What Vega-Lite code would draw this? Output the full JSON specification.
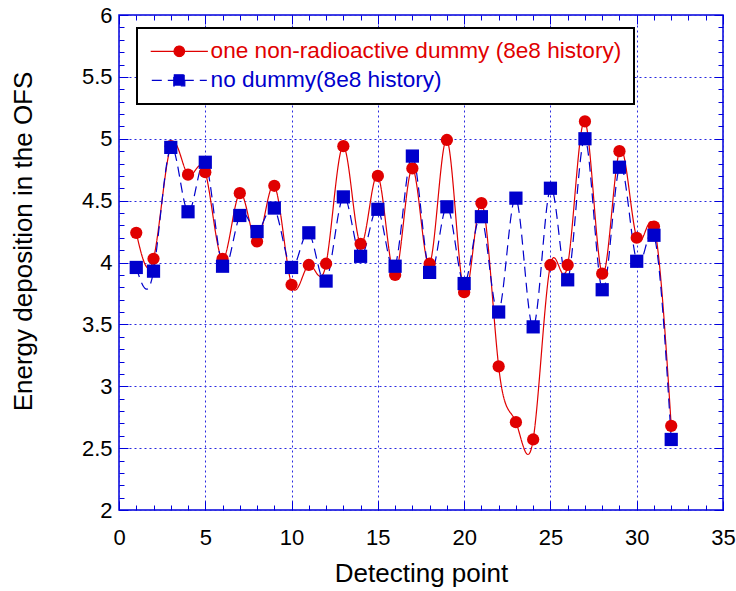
{
  "$schema": "https://vega.github.io/schema/vega-lite/v6.json",
  "autosize": "none",
  "width": 604,
  "height": 495,
  "padding": {"left": 119, "top": 15, "right": 13, "bottom": 81},
  "background": "white",
  "config": {
    "view": {"stroke": "#0000dd", "strokeWidth": 1.5},
    "font": "Liberation Sans",
    "axis": {"labelFont": "Liberation Sans", "titleFont": "Liberation Sans", "labelColor": "black", "titleColor": "black", "titleFontWeight": "normal", "domain": false, "tickColor": "#0000dd", "gridColor": "#2a2ae0", "gridDash": [2, 3], "gridWidth": 1, "labelFlush": false}
  },
  "datasets": {
    "pts": [
      {"point": 1, "series": "one non-radioactive dummy (8e8 history)", "value": 4.24},
      {"point": 2, "series": "one non-radioactive dummy (8e8 history)", "value": 4.03},
      {"point": 3, "series": "one non-radioactive dummy (8e8 history)", "value": 4.94},
      {"point": 4, "series": "one non-radioactive dummy (8e8 history)", "value": 4.71},
      {"point": 5, "series": "one non-radioactive dummy (8e8 history)", "value": 4.73},
      {"point": 6, "series": "one non-radioactive dummy (8e8 history)", "value": 4.03},
      {"point": 7, "series": "one non-radioactive dummy (8e8 history)", "value": 4.56},
      {"point": 8, "series": "one non-radioactive dummy (8e8 history)", "value": 4.17},
      {"point": 9, "series": "one non-radioactive dummy (8e8 history)", "value": 4.62},
      {"point": 10, "series": "one non-radioactive dummy (8e8 history)", "value": 3.82},
      {"point": 11, "series": "one non-radioactive dummy (8e8 history)", "value": 3.98},
      {"point": 12, "series": "one non-radioactive dummy (8e8 history)", "value": 3.99},
      {"point": 13, "series": "one non-radioactive dummy (8e8 history)", "value": 4.94},
      {"point": 14, "series": "one non-radioactive dummy (8e8 history)", "value": 4.15},
      {"point": 15, "series": "one non-radioactive dummy (8e8 history)", "value": 4.70},
      {"point": 16, "series": "one non-radioactive dummy (8e8 history)", "value": 3.90},
      {"point": 17, "series": "one non-radioactive dummy (8e8 history)", "value": 4.76},
      {"point": 18, "series": "one non-radioactive dummy (8e8 history)", "value": 3.99},
      {"point": 19, "series": "one non-radioactive dummy (8e8 history)", "value": 4.99},
      {"point": 20, "series": "one non-radioactive dummy (8e8 history)", "value": 3.76},
      {"point": 21, "series": "one non-radioactive dummy (8e8 history)", "value": 4.48},
      {"point": 22, "series": "one non-radioactive dummy (8e8 history)", "value": 3.16},
      {"point": 23, "series": "one non-radioactive dummy (8e8 history)", "value": 2.71},
      {"point": 24, "series": "one non-radioactive dummy (8e8 history)", "value": 2.57},
      {"point": 25, "series": "one non-radioactive dummy (8e8 history)", "value": 3.98},
      {"point": 26, "series": "one non-radioactive dummy (8e8 history)", "value": 3.98},
      {"point": 27, "series": "one non-radioactive dummy (8e8 history)", "value": 5.14},
      {"point": 28, "series": "one non-radioactive dummy (8e8 history)", "value": 3.91},
      {"point": 29, "series": "one non-radioactive dummy (8e8 history)", "value": 4.90},
      {"point": 30, "series": "one non-radioactive dummy (8e8 history)", "value": 4.20},
      {"point": 31, "series": "one non-radioactive dummy (8e8 history)", "value": 4.29},
      {"point": 32, "series": "one non-radioactive dummy (8e8 history)", "value": 2.68},
      {"point": 1, "series": "no dummy(8e8 history)", "value": 3.96},
      {"point": 2, "series": "no dummy(8e8 history)", "value": 3.93},
      {"point": 3, "series": "no dummy(8e8 history)", "value": 4.93},
      {"point": 4, "series": "no dummy(8e8 history)", "value": 4.41},
      {"point": 5, "series": "no dummy(8e8 history)", "value": 4.81},
      {"point": 6, "series": "no dummy(8e8 history)", "value": 3.97},
      {"point": 7, "series": "no dummy(8e8 history)", "value": 4.38},
      {"point": 8, "series": "no dummy(8e8 history)", "value": 4.25},
      {"point": 9, "series": "no dummy(8e8 history)", "value": 4.44},
      {"point": 10, "series": "no dummy(8e8 history)", "value": 3.96},
      {"point": 11, "series": "no dummy(8e8 history)", "value": 4.24},
      {"point": 12, "series": "no dummy(8e8 history)", "value": 3.85},
      {"point": 13, "series": "no dummy(8e8 history)", "value": 4.53},
      {"point": 14, "series": "no dummy(8e8 history)", "value": 4.05},
      {"point": 15, "series": "no dummy(8e8 history)", "value": 4.43},
      {"point": 16, "series": "no dummy(8e8 history)", "value": 3.97},
      {"point": 17, "series": "no dummy(8e8 history)", "value": 4.86},
      {"point": 18, "series": "no dummy(8e8 history)", "value": 3.92},
      {"point": 19, "series": "no dummy(8e8 history)", "value": 4.45},
      {"point": 20, "series": "no dummy(8e8 history)", "value": 3.83},
      {"point": 21, "series": "no dummy(8e8 history)", "value": 4.37},
      {"point": 22, "series": "no dummy(8e8 history)", "value": 3.60},
      {"point": 23, "series": "no dummy(8e8 history)", "value": 4.52},
      {"point": 24, "series": "no dummy(8e8 history)", "value": 3.48},
      {"point": 25, "series": "no dummy(8e8 history)", "value": 4.60},
      {"point": 26, "series": "no dummy(8e8 history)", "value": 3.86},
      {"point": 27, "series": "no dummy(8e8 history)", "value": 5.00},
      {"point": 28, "series": "no dummy(8e8 history)", "value": 3.78},
      {"point": 29, "series": "no dummy(8e8 history)", "value": 4.77},
      {"point": 30, "series": "no dummy(8e8 history)", "value": 4.01},
      {"point": 31, "series": "no dummy(8e8 history)", "value": 4.22},
      {"point": 32, "series": "no dummy(8e8 history)", "value": 2.57}
    ]
  },
  "data": {"name": "pts"},
  "resolve": {"axis": {"x": "independent", "y": "independent"}},
  "layer": [
    {
      "mark": {"type": "line", "interpolate": "natural", "strokeWidth": 1.2, "clip": true},
      "encoding": {
        "x": {"field": "point", "type": "quantitative", "scale": {"domain": [0, 35], "nice": false, "zero": false},
          "axis": {"orient": "bottom", "values": [0, 5, 10, 15, 20, 25, 30, 35], "grid": true, "tickSize": -9, "labelFontSize": 22, "labelPadding": 26, "title": "Detecting point", "titleFontSize": 26, "titlePadding": 12}},
        "y": {"field": "value", "type": "quantitative", "scale": {"domain": [2, 6], "nice": false, "zero": false},
          "axis": {"orient": "left", "values": [2, 2.5, 3, 3.5, 4, 4.5, 5, 5.5, 6], "format": "~g", "grid": true, "tickSize": -9, "labelFontSize": 22, "labelPadding": 16, "title": "Energy deposition in the OFS", "titleFontSize": 26, "titleX": -96, "titleY": 226, "titleBaseline": "middle", "titleAngle": -90, "titleAlign": "center"}},
        "color": {"field": "series", "type": "nominal",
          "scale": {"domain": ["one non-radioactive dummy (8e8 history)", "no dummy(8e8 history)"], "range": ["#e00000", "#0000cc"]},
          "legend": {"orient": "none", "legendX": 18, "legendY": 13, "title": null, "labelFontSize": 22.6, "labelFont": "Liberation Sans", "labelLimit": 0,
            "strokeColor": "black", "fillColor": "white", "padding": 12, "rowPadding": 6,
            "symbolSize": 121, "symbolOffset": 19, "labelOffset": 20, "symbolStrokeWidth": 1.2,
            "encoding": {
              "legend": {"strokeWidth": {"value": 2}},
              "labels": {"fill": {"value": {"expr": "datum.value === 'no dummy(8e8 history)' ? '#0000cc' : '#e00000'"}}},
              "symbols": {
                "shape": {"value": {"expr": "datum.value === 'no dummy(8e8 history)' ? 'M-5,0H5M-1,-1H1V1H-1Z' : 'M-5.2,0H5.2M0.95,0A0.95,0.95,0,1,1,-0.95,0A0.95,0.95,0,1,1,0.95,0Z'"}},
                "fill": {"value": {"expr": "datum.value === 'no dummy(8e8 history)' ? '#0000cc' : '#e00000'"}},
                "stroke": {"value": {"expr": "datum.value === 'no dummy(8e8 history)' ? '#0000cc' : '#e00000'"}},
                "strokeDash": {"value": {"expr": "datum.value === 'no dummy(8e8 history)' ? [10, 4] : [1, 0]"}},
                "opacity": {"value": 1}
              }
            }}},
        "strokeDash": {"field": "series", "type": "nominal", "scale": {"domain": ["one non-radioactive dummy (8e8 history)", "no dummy(8e8 history)"], "range": [[1, 0], [10, 6]]}, "legend": null}
      }
    },
    {
      "transform": [{"filter": "datum.series === 'one non-radioactive dummy (8e8 history)'"}],
      "mark": {"type": "point", "filled": true, "opacity": 1, "shape": "circle", "size": 150, "color": "#e00000"},
      "encoding": {
        "x": {"field": "point", "type": "quantitative", "axis": {"orient": "bottom", "values": [0,1,2,3,4,5,6,7,8,9,10,11,12,13,14,15,16,17,18,19,20,21,22,23,24,25,26,27,28,29,30,31,32,33,34,35], "labels": false, "grid": false, "tickSize": -5, "title": null}},
        "y": {"field": "value", "type": "quantitative", "axis": {"orient": "left", "values": [2,2.1,2.2,2.3,2.4,2.5,2.6,2.7,2.8,2.9,3,3.1,3.2,3.3,3.4,3.5,3.6,3.7,3.8,3.9,4,4.1,4.2,4.3,4.4,4.5,4.6,4.7,4.8,4.9,5,5.1,5.2,5.3,5.4,5.5,5.6,5.7,5.8,5.9,6], "labels": false, "grid": false, "tickSize": -5, "title": null}}
      }
    },
    {
      "transform": [{"filter": "datum.series === 'no dummy(8e8 history)'"}],
      "mark": {"type": "point", "filled": true, "opacity": 1, "shape": "square", "size": 175, "color": "#0000cc"},
      "encoding": {
        "x": {"field": "point", "type": "quantitative", "axis": {"orient": "top", "values": [0, 5, 10, 15, 20, 25, 30, 35], "labels": false, "grid": false, "tickSize": -9, "title": null}},
        "y": {"field": "value", "type": "quantitative", "axis": {"orient": "right", "values": [2, 2.5, 3, 3.5, 4, 4.5, 5, 5.5, 6], "labels": false, "grid": false, "tickSize": -9, "title": null}}
      }
    },
    {
      "mark": {"type": "point", "opacity": 0},
      "encoding": {
        "x": {"field": "point", "type": "quantitative", "axis": {"orient": "top", "values": [0,1,2,3,4,5,6,7,8,9,10,11,12,13,14,15,16,17,18,19,20,21,22,23,24,25,26,27,28,29,30,31,32,33,34,35], "labels": false, "grid": false, "tickSize": -5, "title": null}},
        "y": {"field": "value", "type": "quantitative", "axis": {"orient": "right", "values": [2,2.1,2.2,2.3,2.4,2.5,2.6,2.7,2.8,2.9,3,3.1,3.2,3.3,3.4,3.5,3.6,3.7,3.8,3.9,4,4.1,4.2,4.3,4.4,4.5,4.6,4.7,4.8,4.9,5,5.1,5.2,5.3,5.4,5.5,5.6,5.7,5.8,5.9,6], "labels": false, "grid": false, "tickSize": -5, "title": null}}
      }
    }
  ]
}
